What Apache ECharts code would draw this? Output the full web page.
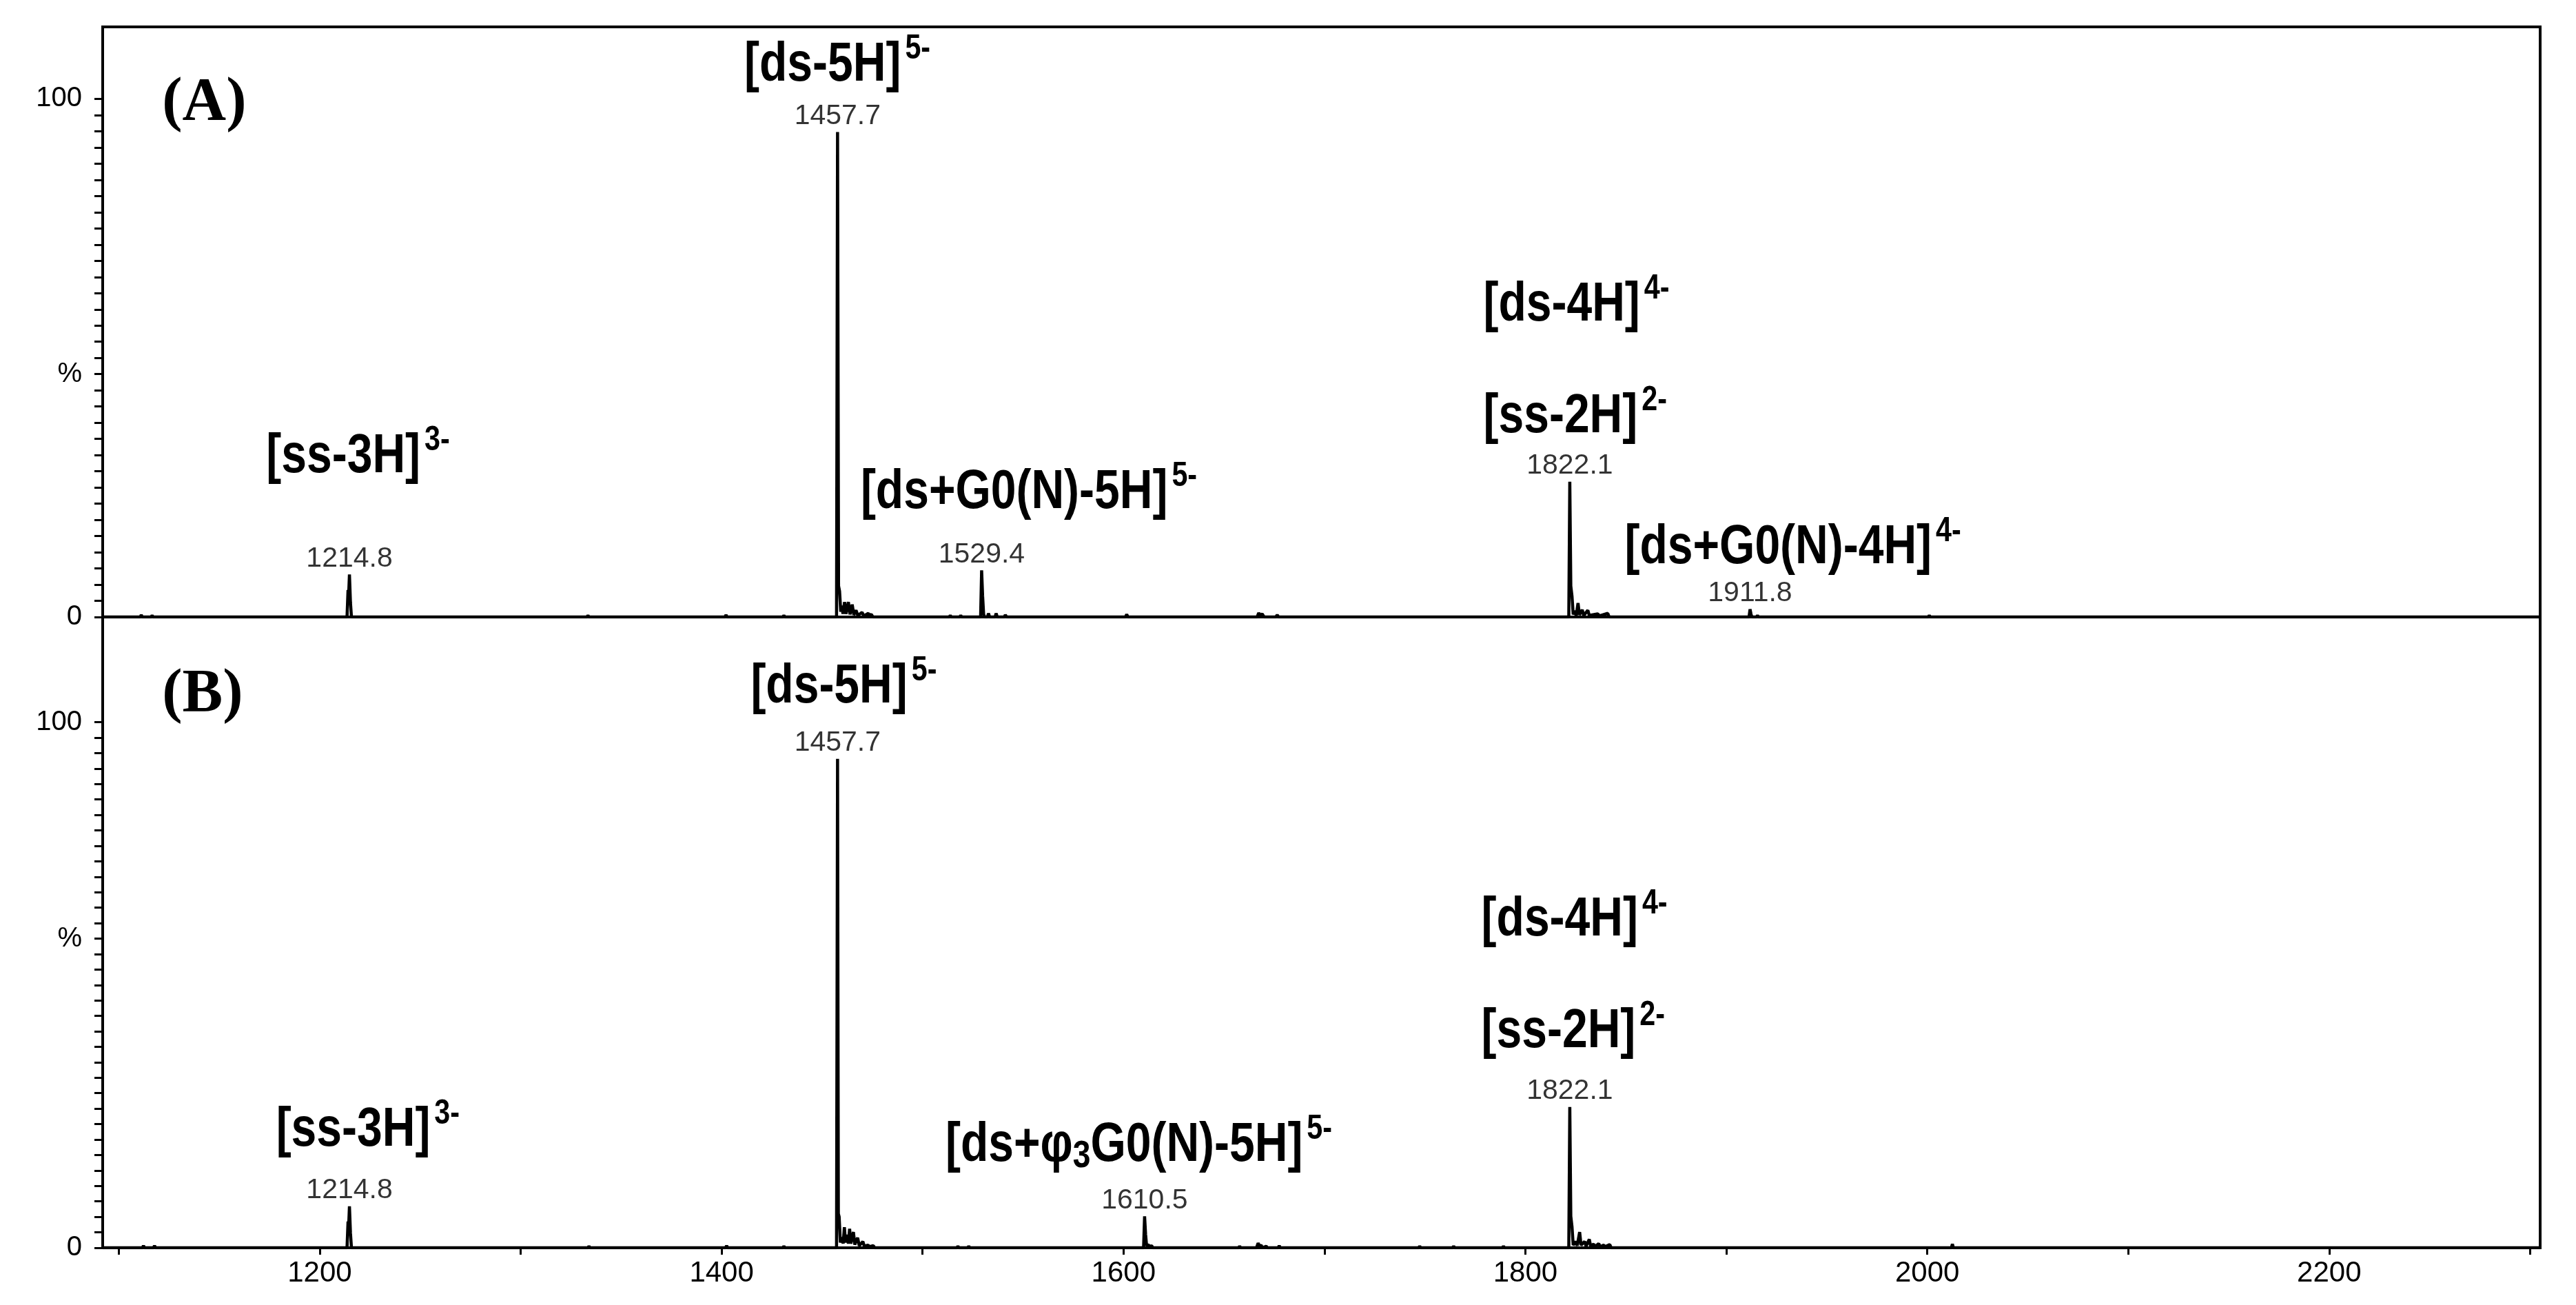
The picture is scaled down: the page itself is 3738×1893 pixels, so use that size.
<!DOCTYPE html>
<html><head><meta charset="utf-8">
<script src="https://cdn.jsdelivr.net/npm/echarts@6/dist/echarts.min.js"></script>
<style>html,body{margin:0;padding:0;background:#fff}#c{width:3738px;height:1893px}</style>
</head><body><div id="c"></div>
<script>
// ---------- Panel A profile (m/z, relative intensity %) ----------
const mzA = [1092,
 1110.7,1111.2,1111.7, 1116.1,1116.6,1117.1,
 1213.6,1214.1,1214.4,1214.8,1215.3,1215.8,
 1333,1333.5,1334, 1401.7,1402.2,1402.7, 1430.5,1431,1431.5,
 1457.2,1457.7,1458.2,1458.7,1459.3,1459.8,1460.4,1461.2,1461.9,1463.1,1463.9,1465.0,1465.8,1466.9,1467.8,1469.9,1470.8,1473.0,1473.7,1474.5,1475.3,
 1513.3,1513.8,1514.3, 1518.5,1519,1519.5,
 1528.9,1529.4,1529.9,1530.4,1530.9,1532.3,1532.8,1533.4,1536.1,1536.6,1537.2,1540.7,1541.2,1541.8,
 1589,1589.5,1590, 1601,1601.6,1602.2, 1656.5,1657,1657.5,
 1666.5,1667.3,1668,1669,1670,1675.8,1676.5,1677.2,
 1821.6,1822.1,1822.6,1823.2,1823.8,1824.6,1825.3,1826.2,1826.9,1828.3,1829,1831.1,1831.8,1836,1836.8,1841,1841.7,
 1911.3,1911.8,1912.3,1912.8,1915,1915.5,1916,
 2000.5,2001,2001.5,
 2305];
const intA = [0,
 0,0.4,0, 0,0.3,0,
 0,5.2,4.2,8.2,2.8,0,
 0,0.3,0, 0,0.4,0, 0,0.3,0,
 0,93.6,6.0,5.0,1.0,2.2,0.6,2.9,0.6,2.9,0.5,2.4,0.4,1.3,0.3,0.9,0.2,0.7,0.3,0.5,0,
 0,0.3,0, 0,0.3,0,
 0,9.0,4.0,0.5,0,0,0.7,0,0,0.7,0,0,0.4,0,
 0,0.2,0, 0,0.5,0, 0,0.2,0,
 0,0.8,0.3,0.6,0,0,0.4,0,
 0,26.1,6.0,4.0,0.5,1.2,0.3,2.7,0.4,1.4,0.3,1.3,0.3,0.6,0.2,0.7,0,
 0,1.5,0.5,0,0,0.3,0,
 0,0.3,0,
 0];

// ---------- Panel B profile ----------
const mzB = [1092,
 1111.8,1112.3,1112.8, 1117.3,1117.8,1118.3,
 1213.6,1214.1,1214.4,1214.8,1215.3,1215.8,
 1333.5,1334,1334.5, 1402,1402.5,1403, 1430.5,1431,1431.5,
 1457.2,1457.7,1458.1,1458.5,1459.1,1460,1460.5,1461.1,1461.7,1462.5,1463.1,1463.7,1464.3,1465.0,1465.6,1466.3,1467.0,1467.7,1468.5,1470.3,1471,1472.9,1473.5,1475.5,1476.2,
 1517.1,1517.6,1518.1, 1522.5,1523,1523.5,
 1610,1610.5,1611,1611.5,1612.3,1613,1614,1614.6,
 1657.3,1657.8,1658.3,
 1666.2,1667,1667.6,1668.5,1669.2,1671,1671.6,1677,1677.5,1678,
 1746.9,1747.4,1747.9, 1763.8,1764.3,1764.8, 1788.6,1789.1,1789.6,
 1821.6,1822.1,1822.6,1823.2,1823.8,1825,1825.8,1827.0,1827.7,1829.5,1830.2,1831.8,1832.5,1834,1834.6,1836.5,1837.2,1839,1839.6,1842,1842.7,
 2012,2012.5,2013,
 2305];
const intB = [0,
 0,0.4,0, 0,0.4,0,
 0,5.0,4.0,7.9,2.8,0,
 0,0.3,0, 0,0.4,0, 0,0.3,0,
 0,93.0,6.5,5.9,1.0,2.0,0.8,3.9,1.0,2.5,0.8,3.6,0.8,2.0,3.0,0.6,1.4,1.9,0.4,1.2,0.3,0.5,0.2,0.4,0,
 0,0.3,0, 0,0.3,0,
 0,6.0,2.5,0.4,0.6,0.2,0.4,0,
 0,0.3,0,
 0,0.9,0.3,0.5,0,0.3,0,0,0.4,0,
 0,0.3,0, 0,0.3,0, 0,0.3,0,
 0,26.8,6.0,4.0,0.5,1.2,0.4,3.0,0.5,1.2,0.3,1.6,0.3,0.7,0.2,0.8,0.2,0.5,0.2,0.6,0,
 0,0.7,0,
 0];

// ---------- Peak m/z labels ----------
const peakLabelsA = [1214.8, 1457.7, 1529.4, 1822.1, 1911.8];
const peakLabelsB = [1214.8, 1457.7, 1610.5, 1822.1];

// ---------- Ion annotations (text, charge, anchor in data units: left edge, cap middle) ----------
// '_3' marks a lowered, smaller "3"
const ionTextA   = ['[ds-5H]', '[ss-3H]', '[ds+G0(N)-5H]', '[ds-4H]', '[ss-2H]', '[ds+G0(N)-4H]'];
const ionChargeA = ['5-', '3-', '5-', '4-', '2-', '4-'];
const ionMzA     = [1411.3, 1173.4, 1469.2, 1779.1, 1779.1, 1849.4];
const ionValA    = [106.4, 30.9, 23.9, 60.1, 38.6, 13.3];

const ionTextB   = ['[ds-5H]', '[ss-3H]', '[ds+φ_3G0(N)-5H]', '[ds-4H]', '[ss-2H]'];
const ionChargeB = ['5-', '3-', '5-', '4-', '2-'];
const ionMzB     = [1414.5, 1178.3, 1511.4, 1778.1, 1778.1];
const ionValB    = [106.6, 22.3, 19.4, 62.3, 41.0];

const panelTitles = ['(A)', '(B)'];
const panelTitleMz = [1121.6, 1121.6];
const panelTitleVal = [99.1, 105.2];

// ---------- Axes ----------
const X_MIN = 1092, X_MAX = 2305;
const xTickValues = [1100,1200,1300,1400,1500,1600,1700,1800,1900,2000,2100,2200,2300];
const xLabelValues = [1200,1400,1600,1800,2000,2200];
const yMaxA = 113.9, yMaxB = 120.0;
const yStepA = 100/32, yStepB = 100/34;
const yTicksA = Array.from({length: 33}, (_, i) => i * yStepA);
const yTicksB = Array.from({length: 35}, (_, i) => i * yStepB);
const yLabelValuesA = [0, 15 * yStepA, 100];
const yLabelValuesB = [0, 20 * yStepB, 100];
const yLabelTextA = ['0', '%', '100'];
const yLabelTextB = ['0', '%', '100'];

function zip(a, b) { return a.map((v, i) => [v, b[i]]); }
function peakPoints(labels, mz, inten) {
  return labels.map(m => {
    let best = 0;
    mz.forEach((v, i) => { if (Math.abs(v - m) < 0.35 && inten[i] > best) best = inten[i]; });
    return [m, best];
  });
}
function yFormatter(vals, texts) {
  return function (v) {
    for (let i = 0; i < vals.length; i++) if (Math.abs(v - vals[i]) < 1e-6) return texts[i];
    return '';
  };
}

const NUM_FONT = 'Liberation Sans, Arial, sans-serif';
const lineStyle = { color: '#000', width: 4.5, join: 'bevel' };

function yAxis(grid, max, ticks, labelVals, labelTexts) {
  return {
    gridIndex: grid, type: 'value', min: 0, max: max,
    axisLine: { show: false },
    axisTick: { show: true, length: 12, lineStyle: { color: '#000', width: 3 }, customValues: ticks },
    axisLabel: { show: true, customValues: labelVals, formatter: yFormatter(labelVals, labelTexts),
      fontSize: 40, color: '#000', fontFamily: NUM_FONT, margin: 30 },
    splitLine: { show: false }
  };
}
function labelSeries(xi, pts) {
  return {
    type: 'scatter', xAxisIndex: xi, yAxisIndex: xi, data: pts, symbolSize: 1,
    itemStyle: { color: 'rgba(0,0,0,0)' }, silent: true, animation: false, z: 5,
    label: { show: true, position: 'top', distance: 2, formatter: p => p.value[0].toFixed(1),
      fontSize: 41, color: '#000', fontFamily: NUM_FONT }
  };
}

const chart = echarts.init(document.getElementById('c'), null, { renderer: 'canvas' });
const option = {
  animation: false,
  backgroundColor: '#fff',
  grid: [
    { left: 149, right: 52, top: 39, height: 856, show: true, borderColor: '#000', borderWidth: 4, backgroundColor: 'rgba(0,0,0,0)' },
    { left: 149, right: 52, top: 895, height: 915, show: true, borderColor: '#000', borderWidth: 4, backgroundColor: 'rgba(0,0,0,0)' }
  ],
  xAxis: [
    { gridIndex: 0, type: 'value', min: X_MIN, max: X_MAX, axisLine: { show: false }, axisTick: { show: false },
      axisLabel: { show: false }, splitLine: { show: false } },
    { gridIndex: 1, type: 'value', min: X_MIN, max: X_MAX, axisLine: { show: false },
      axisTick: { show: true, length: 10, lineStyle: { color: '#000', width: 3 }, customValues: xTickValues },
      axisLabel: { show: true, customValues: xLabelValues, formatter: v => String(v),
        fontSize: 42, color: '#000', fontFamily: NUM_FONT, margin: 16 },
      splitLine: { show: false } }
  ],
  yAxis: [
    yAxis(0, yMaxA, yTicksA, yLabelValuesA, yLabelTextA),
    yAxis(1, yMaxB, yTicksB, yLabelValuesB, yLabelTextB)
  ],
  series: [
    { type: 'line', xAxisIndex: 0, yAxisIndex: 0, data: zip(mzA, intA), symbol: 'none', showSymbol: false,
      lineStyle: lineStyle, silent: true, z: 3 },
    { type: 'line', xAxisIndex: 1, yAxisIndex: 1, data: zip(mzB, intB), symbol: 'none', showSymbol: false,
      lineStyle: lineStyle, silent: true, z: 3 },
    labelSeries(0, peakPoints(peakLabelsA, mzA, intA)),
    labelSeries(1, peakPoints(peakLabelsB, mzB, intB))
  ]
};
chart.setOption(option);

// ---------- Annotations placed through the axes' own scales ----------
const NARROW = 0.825;          // the reference uses a condensed bold face
const MAIN_SIZE = 80, SUP_SIZE = 50, SUB_SIZE = 56;
const SUP_RISE = 24;           // superscript middle above capital middle
const SUB_DROP = 15;           // lowered "3" middle below capital middle
const SUP_GAP = 6;
const fontOf = s => 'bold ' + s + 'px "Liberation Sans", Arial, sans-serif';
const measureCtx = document.createElement('canvas').getContext('2d');
function textWidth(t, size) { measureCtx.font = fontOf(size); return measureCtx.measureText(t).width * NARROW; }

const graphics = [];
function pushText(t, size, x, y) {
  graphics.push({
    type: 'text', x: x, y: y, scaleX: NARROW, scaleY: 1, silent: true, z: 10,
    style: { text: t, font: fontOf(size), fill: '#000', align: 'left', verticalAlign: 'middle',
      textAlign: 'left', textVerticalAlign: 'middle' }
  });
}
function addIons(grid, texts, charges, mzs, vals) {
  texts.forEach((t, i) => {
    const p = chart.convertToPixel({ gridIndex: grid }, [mzs[i], vals[i]]);
    let x = p[0];
    const parts = t.split('_');
    parts.forEach((part, k) => {
      let body = part;
      if (k > 0) {               // first char of following parts is lowered
        const c = part.charAt(0);
        pushText(c, SUB_SIZE, x, p[1] + SUB_DROP);
        x += textWidth(c, SUB_SIZE);
        body = part.slice(1);
      }
      pushText(body, MAIN_SIZE, x, p[1]);
      x += textWidth(body, MAIN_SIZE);
    });
    pushText(charges[i], SUP_SIZE, x + SUP_GAP, p[1] - SUP_RISE);
  });
}
addIons(0, ionTextA, ionChargeA, ionMzA, ionValA);
addIons(1, ionTextB, ionChargeB, ionMzB, ionValB);
panelTitles.forEach((t, i) => {
  const p = chart.convertToPixel({ gridIndex: i }, [panelTitleMz[i], panelTitleVal[i]]);
  graphics.push({
    type: 'text', x: p[0], y: p[1], silent: true, z: 10,
    style: { text: t, font: 'bold 88px "Liberation Serif", "Times New Roman", serif', fill: '#000',
      align: 'left', verticalAlign: 'middle', textAlign: 'left', textVerticalAlign: 'middle' }
  });
});
chart.setOption({ graphic: graphics });
</script>
</body></html>
